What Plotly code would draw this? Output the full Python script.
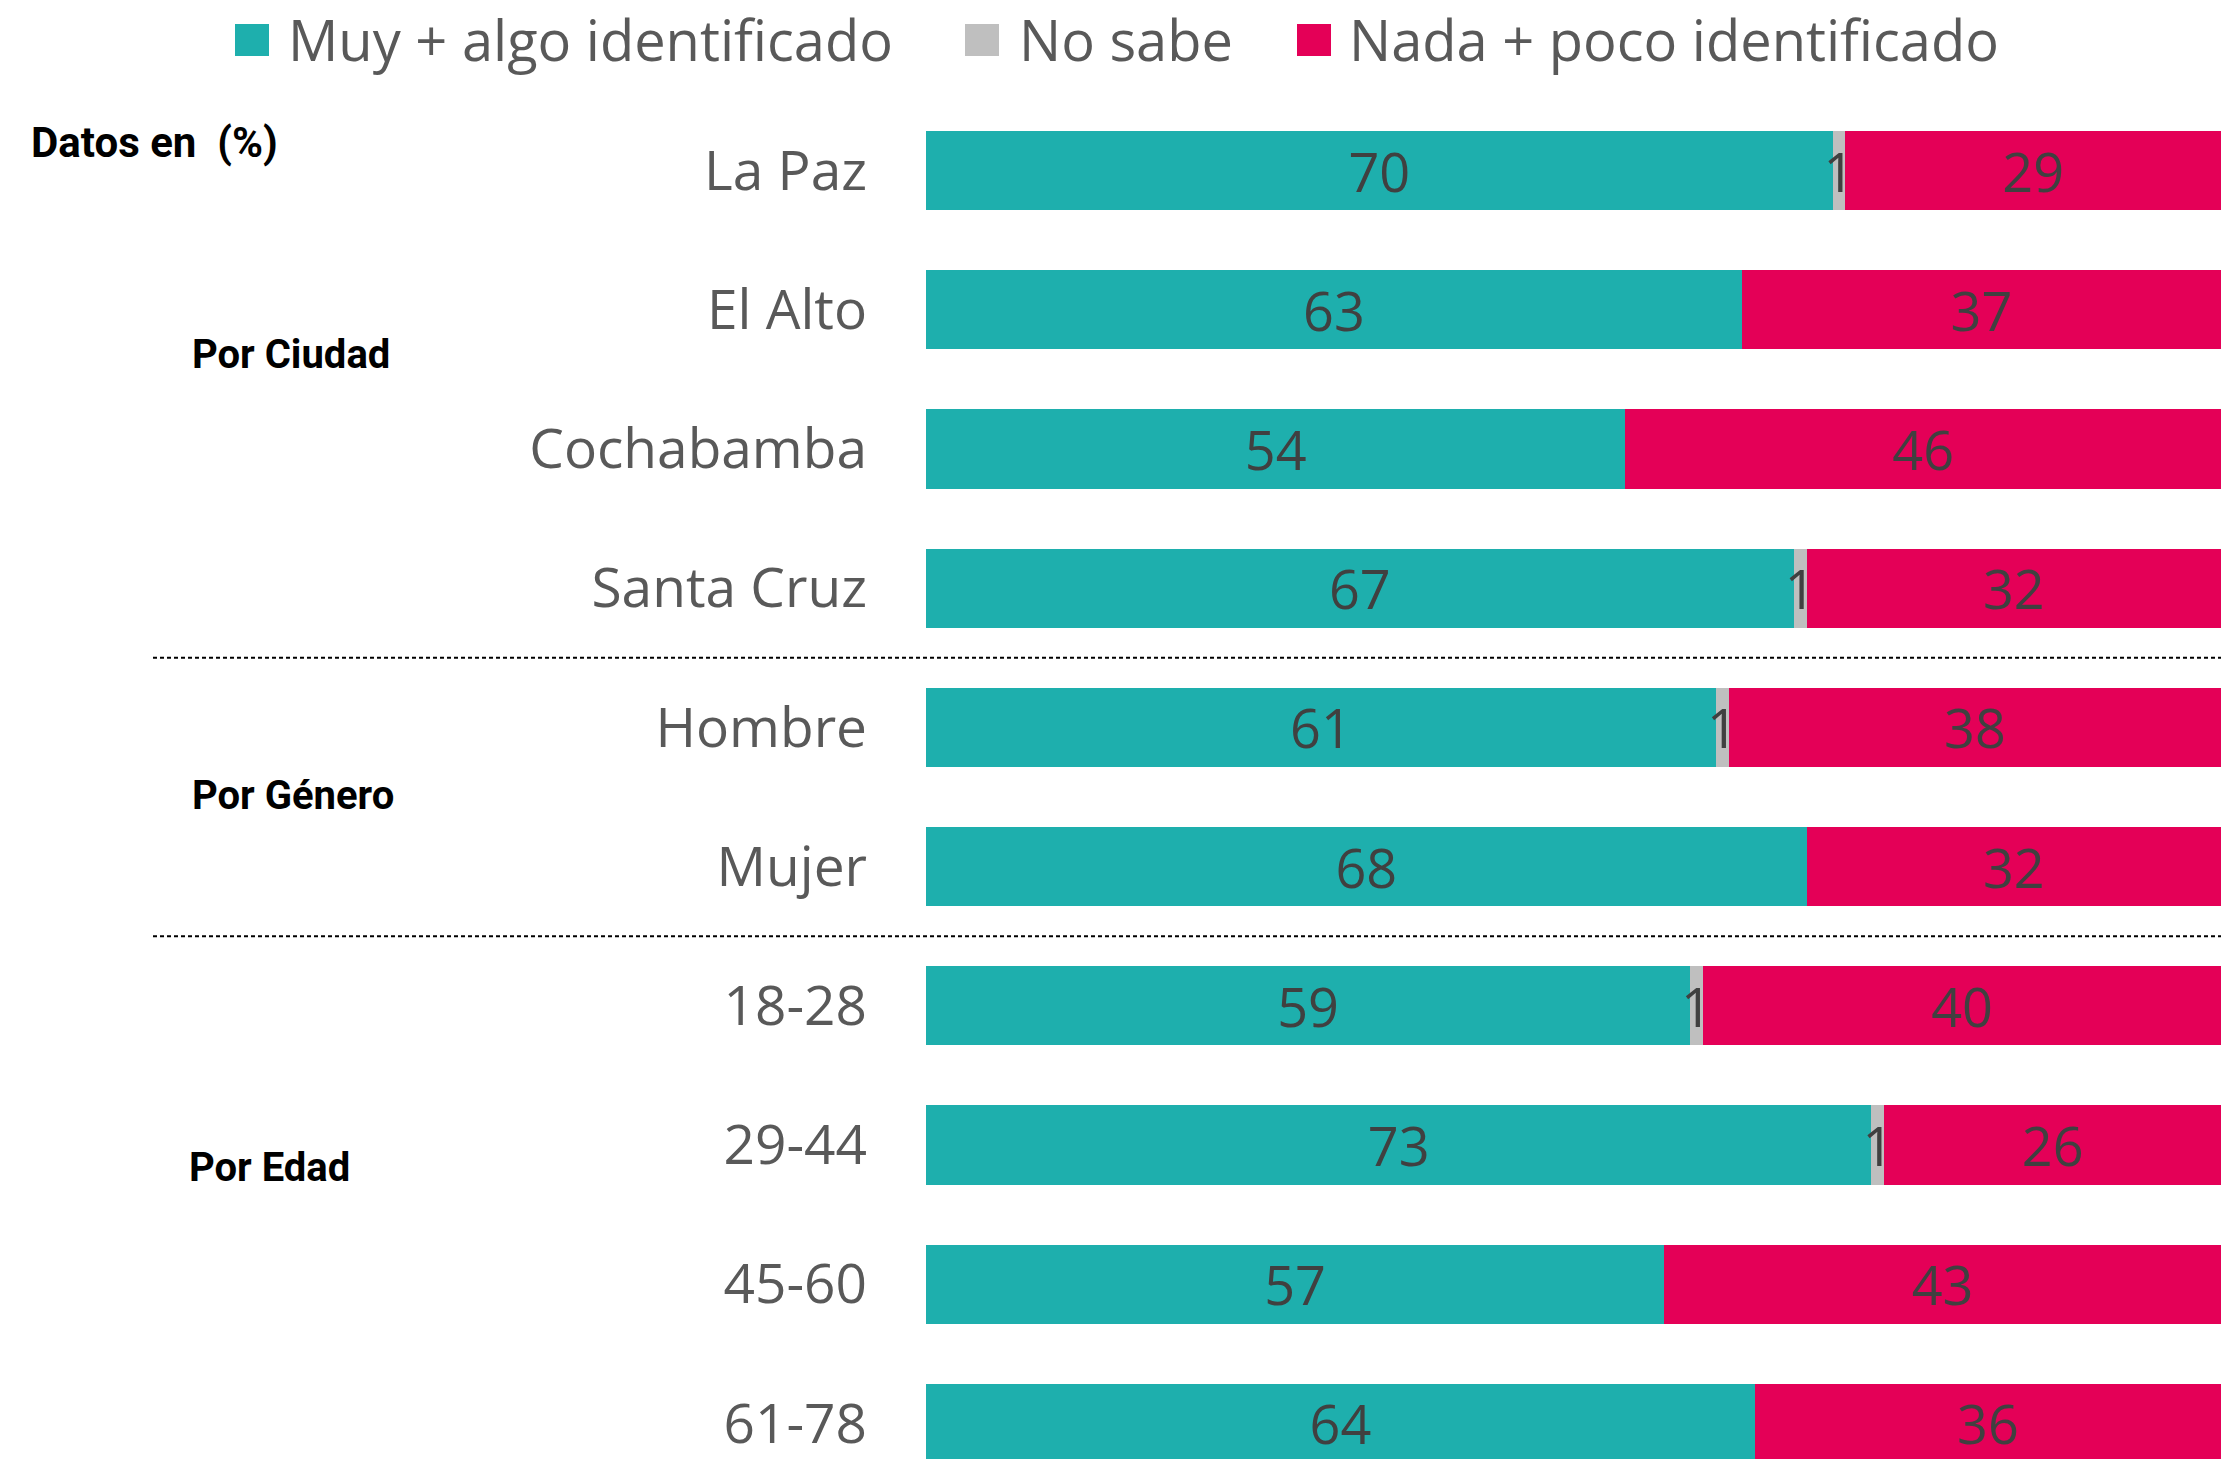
import plotly.graph_objects as go

categories = ["La Paz", "El Alto", "Cochabamba", "Santa Cruz", "Hombre", "Mujer",
              "18-28", "29-44", "45-60", "61-78"]
muy_algo = [70, 63, 54, 67, 61, 68, 59, 73, 57, 64]
no_sabe = [1, 0, 0, 1, 1, 0, 1, 1, 0, 0]
nada_poco = [29, 37, 46, 32, 38, 32, 40, 26, 43, 36]

series_names = ["Muy + algo identificado", "No sabe", "Nada + poco identificado"]
series_values = [muy_algo, no_sabe, nada_poco]
series_colors = ["#1EAFAD", "#BFBFBF", "#E40057"]

group_labels = ["Datos en  (%)", "Por Ciudad", "Por Género", "Por Edad"]
group_label_pos = [-0.2, 1.32, 4.49, 7.16]
group_label_x = [-0.693, -0.568, -0.568, -0.571]
group_label_size = [42, 40, 40, 40]
separators = [3.5, 5.5]

W, H = 2221, 1459
L, T = 926, 101
plot_w = W - L
plot_h = H - T

ypos = list(range(len(categories)))

fig = go.Figure()
for name, vals, col in zip(series_names, series_values, series_colors):
    fig.add_trace(go.Bar(
        y=ypos, x=vals, orientation="h", name=name,
        marker=dict(color=col, line=dict(width=0)),
        text=[str(v) if v else "" for v in vals],
        textposition="inside", insidetextanchor="middle",
        textangle=0, constraintext="none",
        textfont=dict(family="Open Sans", size=54, color="#404040"),
        showlegend=False, hoverinfo="skip",
    ))


def px_x(p):
    return (p - L) / plot_w


def px_y(p):
    return (H - p) / plot_h


# custom legend (large square swatches)
leg_sq_x = [235, 965, 1297]
leg_txt_x = [287, 1018, 1348]
for name, col, sx, tx in zip(series_names, series_colors, leg_sq_x, leg_txt_x):
    fig.add_shape(type="rect", xref="paper", yref="paper",
                  x0=px_x(sx), x1=px_x(sx + 34), y0=px_y(56), y1=px_y(24),
                  fillcolor=col, line=dict(width=0))
    fig.add_annotation(xref="paper", yref="paper", x=px_x(tx), y=px_y(39),
                       text=name, showarrow=False, xanchor="left", yanchor="middle",
                       borderpad=0,
                       font=dict(family="Open Sans", size=56, color="#595959"))

for lab, yp, xp, fs in zip(group_labels, group_label_pos, group_label_x, group_label_size):
    fig.add_annotation(xref="paper", yref="y", x=xp, y=yp, text="<b>" + lab + "</b>",
                       showarrow=False, xanchor="left", yanchor="middle",
                       font=dict(family="Roboto", size=fs, color="#000000"))

for s in separators:
    fig.add_shape(type="line", xref="paper", yref="y",
                  x0=px_x(153), x1=1, y0=s, y1=s,
                  line=dict(color="#000000", width=2, dash="4px,3px"))

fig.update_layout(
    width=W, height=H,
    margin=dict(l=L, r=0, t=T, b=0),
    barmode="stack", bargap=0.43,
    plot_bgcolor="white", paper_bgcolor="white",
    showlegend=False,
    xaxis=dict(range=[0, 100], visible=False, fixedrange=True),
    yaxis=dict(range=[9.256, -0.5], tickvals=ypos, ticktext=categories,
               showgrid=False, zeroline=False, showline=False,
               ticks="outside", ticklen=47, tickcolor="rgba(0,0,0,0)",
               tickfont=dict(family="Open Sans", size=55, color="#595959")),
)

fig.write_html("out.html",
               config={"displayModeBar": False},
               post_script="document.body.style.margin='0';"
                           "document.body.style.overflow='hidden';"
                           "document.documentElement.style.overflow='hidden';")
